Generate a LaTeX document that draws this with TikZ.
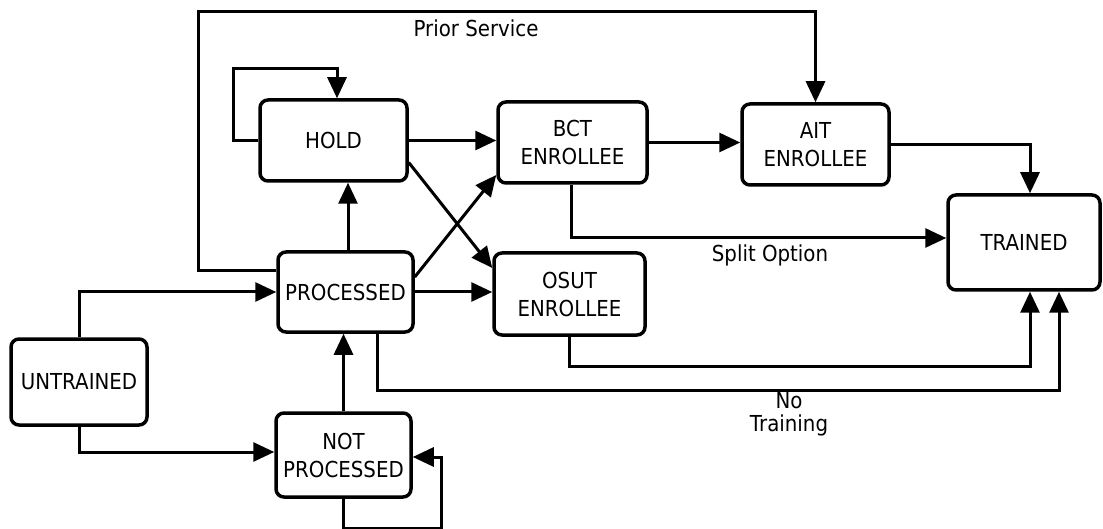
\documentclass[tikz,border=0pt]{standalone}
\usepackage{fontspec}
\setmainfont{DejaVu Sans}[FakeStretch=0.9]
\usetikzlibrary{arrows.meta}
\begin{document}
\begin{tikzpicture}[x=1pt,y=-1pt,
  box/.style={draw,line width=3.5pt,rounded corners=8pt,inner sep=0pt,align=center,
    font=\fontsize{22}{28}\selectfont},
  arr/.style={line width=3pt,-{Triangle[length=21pt,width=19pt]}},
  lbl/.style={inner sep=0pt,align=center,font=\fontsize{22}{22}\selectfont}]
\useasboundingbox (0,0) rectangle (1103,529);
\node[box,minimum width=147pt,minimum height=81pt] (HOLD) at (333.5,140.5) {HOLD};
\node[box,minimum width=149pt,minimum height=81pt] (BCT) at (572.5,142.5) {BCT\\ENROLLEE};
\node[box,minimum width=147pt,minimum height=81pt] (AIT) at (815.5,144.5) {AIT\\ENROLLEE};
\node[box,minimum width=152pt,minimum height=95pt] (TR) at (1024,242.5) {TRAINED};
\node[box,minimum width=135pt,minimum height=80pt] (PROC) at (345.5,292) {PROCESSED};
\node[box,minimum width=151pt,minimum height=82pt] (OSUT) at (569.5,294) {OSUT\\ENROLLEE};
\node[box,minimum width=136pt,minimum height=86pt] (UNT) at (79,382) {UNTRAINED};
\node[box,minimum width=135pt,minimum height=84pt] (NP) at (343.5,455) {NOT\\PROCESSED};

\node[lbl] (ps) at (476,28) {Prior Service};
\node[lbl] (so) at (770,255) {Split Option};
\node[lbl,font=\fontsize{22}{23}\selectfont] (nt) at (789,414) {No\\Training};

% Prior service
\draw[arr] ([yshift=21pt]PROC.west) -- (198,271) -- (198,12) -| (AIT.north);
% hold self loop
\draw[arr] (HOLD.west) -| (233,69) -| ([xshift=3.5pt]HOLD.north);
% processed -> hold
\draw[arr] ([xshift=2.5pt]PROC.north) -- ([xshift=2.5pt]PROC.north |- HOLD.south);
% hold -> bct
\draw[arr] (HOLD.east) -- (HOLD.east -| BCT.west);
% hold -> osut
\draw[arr] ([yshift=-22pt]HOLD.east) -- ([yshift=26pt]OSUT.west);
% processed -> bct
\draw[arr] ([yshift=15pt]PROC.east) -- ([yshift=-32.5pt]BCT.west);
% processed -> osut
\draw[arr] (PROC.east) -- (PROC.east -| OSUT.west);
% bct -> ait
\draw[arr] (BCT.east) -- (BCT.east -| AIT.west);
% bct -> trained (split option)
\draw[arr] ([xshift=-1.5pt]BCT.south) |- ([yshift=4.5pt]TR.west);
% ait -> trained
\draw[arr] (AIT.east) -| ([xshift=6pt]TR.north);
% osut -> trained
\draw[arr] (OSUT.south) -- ++(0,30) -| ([xshift=6pt]TR.south);
% processed -> trained (no training)
\draw[arr] ([xshift=31.5pt]PROC.south) -- ++(0,57) -| ([xshift=35pt]TR.south);
% untrained -> processed
\draw[arr] (UNT.north) |- (PROC.west);
% untrained -> not processed
\draw[arr] (UNT.south) |- ([yshift=3pt]NP.west);
% not processed -> processed
\draw[arr] (NP.north) -- (NP.north |- PROC.south);
% not processed self loop
\coordinate (npl) at (441,457);
\draw[arr] (NP.south) -- ++(0,30) -| (npl) -- (npl -| NP.east);
\end{tikzpicture}
\end{document}
